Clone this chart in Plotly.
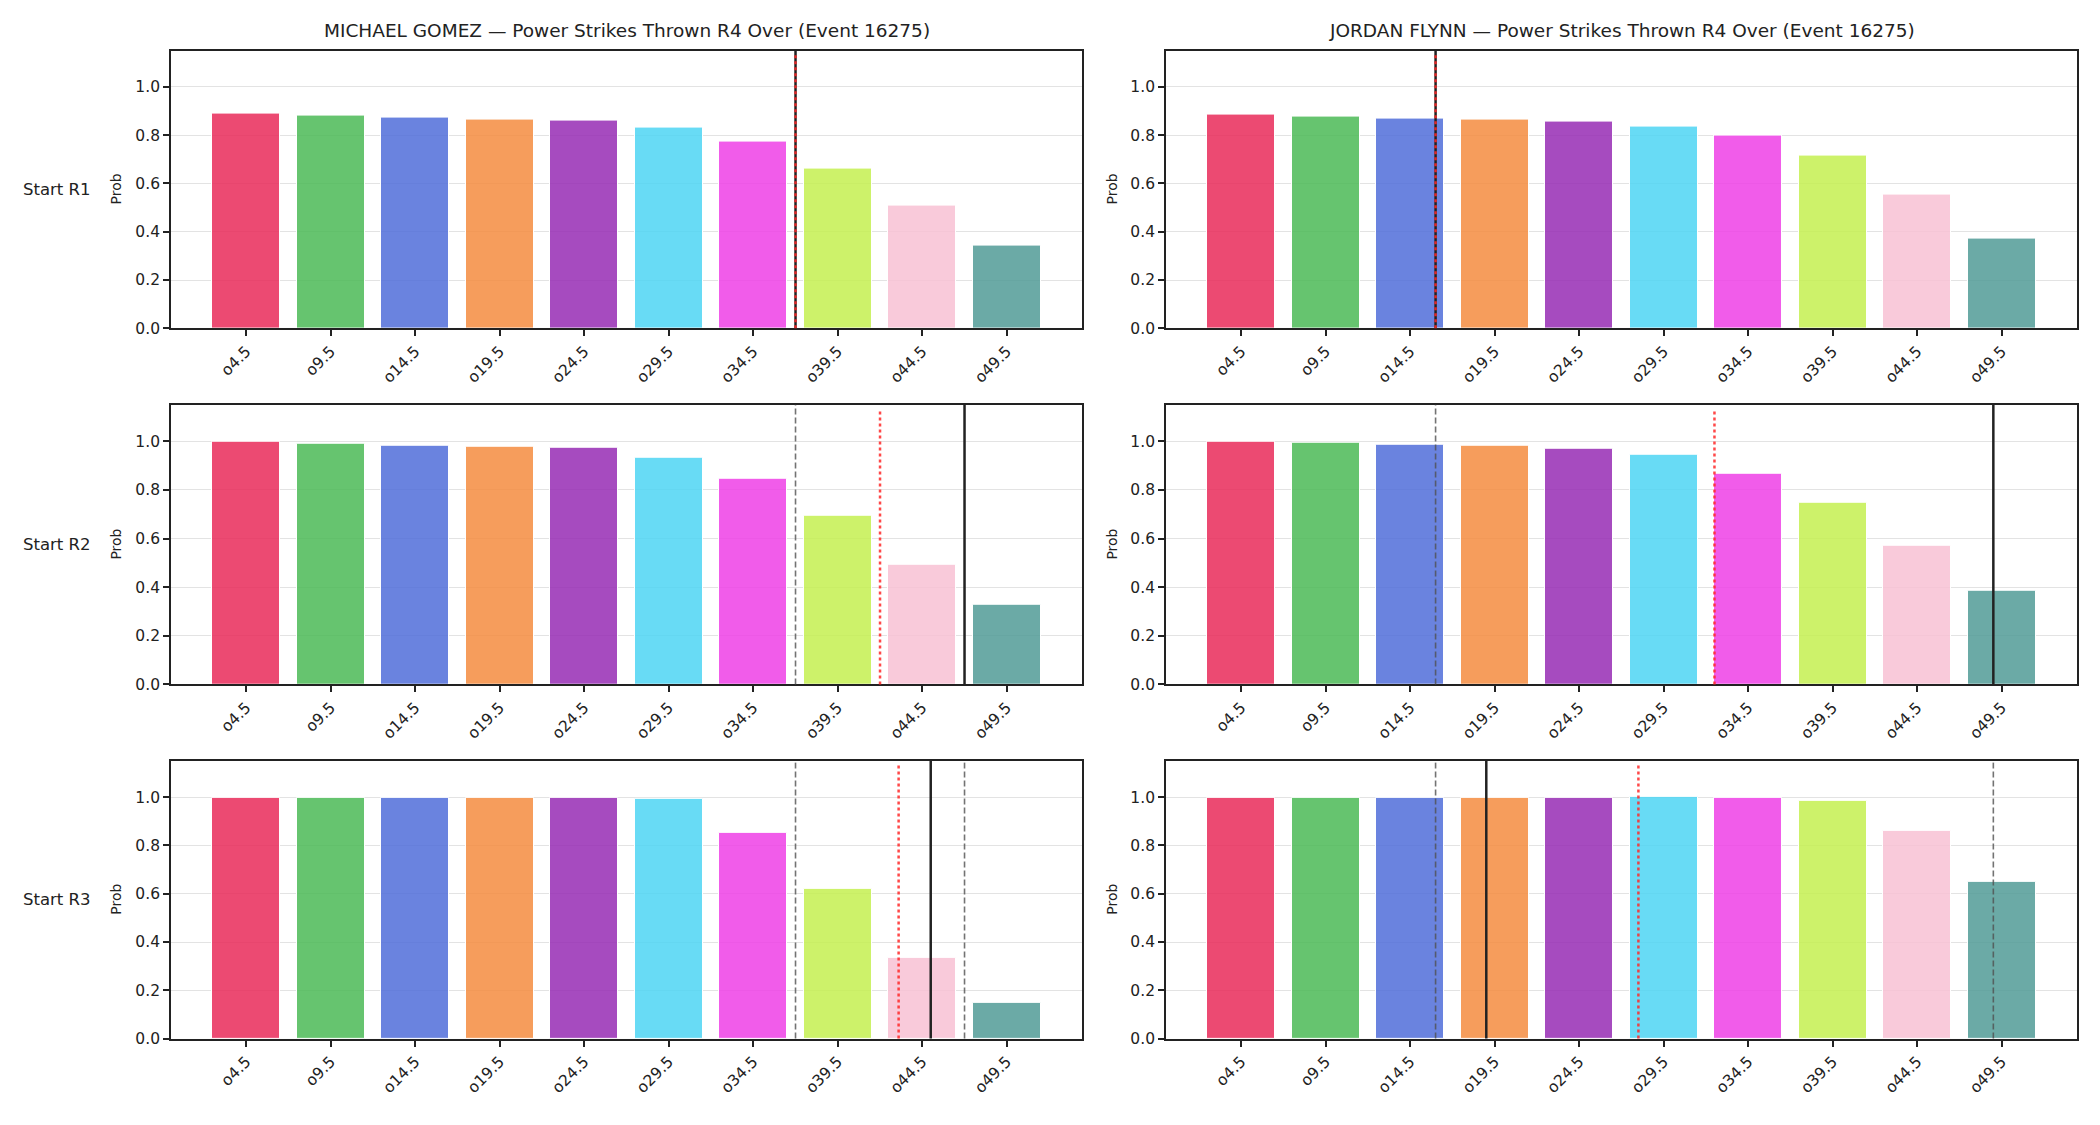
import plotly.graph_objects as go

# ---------------- data ----------------
lines = [4.5, 9.5, 14.5, 19.5, 24.5, 29.5, 34.5, 39.5, 44.5, 49.5]
tick_labels = ["o4.5", "o9.5", "o14.5", "o19.5", "o24.5", "o29.5", "o34.5", "o39.5", "o44.5", "o49.5"]
row_labels = ["Start R1", "Start R2", "Start R3"]
fighters = ["MICHAEL GOMEZ", "JORDAN FLYNN"]
market = "Power Strikes Thrown R4 Over (Event 16275)"

gomez_r1 = [0.890, 0.879, 0.874, 0.866, 0.862, 0.833, 0.775, 0.660, 0.508, 0.344]
gomez_r2 = [0.997, 0.989, 0.982, 0.977, 0.974, 0.932, 0.846, 0.694, 0.494, 0.326]
gomez_r3 = [0.998, 0.998, 0.998, 0.998, 0.998, 0.992, 0.850, 0.621, 0.333, 0.149]
flynn_r1 = [0.886, 0.878, 0.867, 0.866, 0.858, 0.837, 0.797, 0.714, 0.553, 0.373]
flynn_r2 = [0.997, 0.993, 0.986, 0.982, 0.970, 0.944, 0.868, 0.748, 0.572, 0.387]
flynn_r3 = [0.998, 0.998, 0.998, 0.998, 0.998, 0.999, 0.998, 0.985, 0.861, 0.648]

# marker lines (in strike-count units), per start round
gomez_solid = [37.0, 47.0, 45.0]
gomez_dotted = [37.0, 42.0, 43.1]
gomez_dashed = [[], [37.0], [37.0, 47.0]]
flynn_solid = [16.0, 49.0, 19.0]
flynn_dotted = [16.0, 32.5, 28.0]
flynn_dashed = [[], [16.0], [16.0, 49.0]]

bar_colors = ["rgba(233,42,89,0.85)", "rgba(75,186,86,0.85)", "rgba(80,109,217,0.85)",
              "rgba(244,140,63,0.85)", "rgba(150,44,180,0.85)", "rgba(77,213,243,0.85)",
              "rgba(238,63,230,0.85)", "rgba(196,240,80,0.85)", "rgba(248,193,212,0.85)",
              "rgba(81,155,150,0.85)"]

values = [[gomez_r1, flynn_r1], [gomez_r2, flynn_r2], [gomez_r3, flynn_r3]]
solids = [gomez_solid, flynn_solid]
dotteds = [gomez_dotted, flynn_dotted]
dasheds = [gomez_dashed, flynn_dashed]

# ---------------- layout geometry ----------------
W, H = 2100, 1125
col_px = [(171, 1082), (1166, 2077)]
row_px = [(51, 331), (408, 690), (767, 1047)]
prob_px = [116, 1112]
FONT = "DejaVu Sans"
INK = "#222222"

fig = go.Figure()
layout = dict(
    width=W, height=H, margin=dict(l=0, r=0, t=0, b=0),
    paper_bgcolor="white", plot_bgcolor="white", showlegend=False,
    font=dict(family=FONT, color=INK), bargap=0,
)
shapes = []
annotations = []

idx = 0
for r in range(3):
    for c in range(2):
        idx += 1
        xa = "x" if idx == 1 else f"x{idx}"
        ya = "y" if idx == 1 else f"y{idx}"
        xkey = "xaxis" if idx == 1 else f"xaxis{idx}"
        ykey = "yaxis" if idx == 1 else f"yaxis{idx}"
        x0, x1 = col_px[c]
        t0, t1 = row_px[r]
        fig.add_trace(go.Bar(
            x=lines, y=values[r][c], width=4.0,
            marker=dict(color=bar_colors, line=dict(color="white", width=1)),
            xaxis=xa, yaxis=ya, hoverinfo="x+y",
        ))
        layout[xkey] = dict(
            domain=[x0 / W, x1 / W], anchor=ya, range=[0.05, 53.95],
            tickmode="array", tickvals=lines, ticktext=tick_labels, tickangle=-45,
            ticks="outside", ticklen=6, tickwidth=1.5, tickcolor=INK,
            showline=True, linecolor=INK, linewidth=1.8, mirror=True,
            showgrid=False, zeroline=False,
            tickfont=dict(family=FONT, size=15.5, color=INK),
        )
        layout[ykey] = dict(
            domain=[1 - t1 / H, 1 - t0 / H], anchor=xa, range=[0, 1.15],
            tickmode="array", tickvals=[0, 0.2, 0.4, 0.6, 0.8, 1.0],
            ticktext=["0.0", "0.2", "0.4", "0.6", "0.8", "1.0"],
            ticks="outside", ticklen=6, tickwidth=1.5, tickcolor=INK,
            showline=True, linecolor=INK, linewidth=1.8, mirror=True,
            showgrid=True, gridcolor="#e3e3e3", gridwidth=1, zeroline=False,
            tickfont=dict(family=FONT, size=15.5, color=INK),
        )
        # vertical marker lines
        for v in dasheds[c][r]:
            shapes.append(dict(type="line", xref=xa, yref=f"{ya} domain", x0=v, x1=v, y0=0, y1=1,
                               line=dict(color="rgba(80,80,80,0.8)", width=1.6, dash="6px,3px"),
                               layer="above"))
        v = solids[c][r]
        shapes.append(dict(type="line", xref=xa, yref=f"{ya} domain", x0=v, x1=v, y0=0, y1=1,
                           line=dict(color=INK, width=2.5), layer="above"))
        v = dotteds[c][r]
        shapes.append(dict(type="line", xref=xa, yref=f"{ya} domain", x0=v, x1=v, y0=0, y1=0.985,
                           line=dict(color="rgba(255,40,40,0.85)", width=2.5, dash="3px,3px"),
                           layer="above"))
        # y-axis title
        annotations.append(dict(text="Prob", xref="paper", yref="paper",
                                x=prob_px[c] / W, y=1 - (t0 + t1) / 2 / H,
                                textangle=-90, showarrow=False, xanchor="center", yanchor="middle",
                                font=dict(family=FONT, size=14, color=INK)))
        # titles
        if r == 0:
            annotations.append(dict(text=f"{fighters[c]} — {market}", xref="paper", yref="paper",
                                    x=(x0 + x1) / 2 / W, y=1 - 31 / H, showarrow=False,
                                    xanchor="center", yanchor="middle",
                                    font=dict(family=FONT, size=18.5, color=INK)))
        # row labels
        if c == 0:
            annotations.append(dict(text=row_labels[r], xref="paper", yref="paper",
                                    x=57 / W, y=1 - (t0 + t1) / 2 / H, showarrow=False,
                                    xanchor="center", yanchor="middle",
                                    font=dict(family=FONT, size=16.5, color=INK)))

layout["shapes"] = shapes
layout["annotations"] = annotations
fig.update_layout(**layout)
fig.write_html("out.html")
